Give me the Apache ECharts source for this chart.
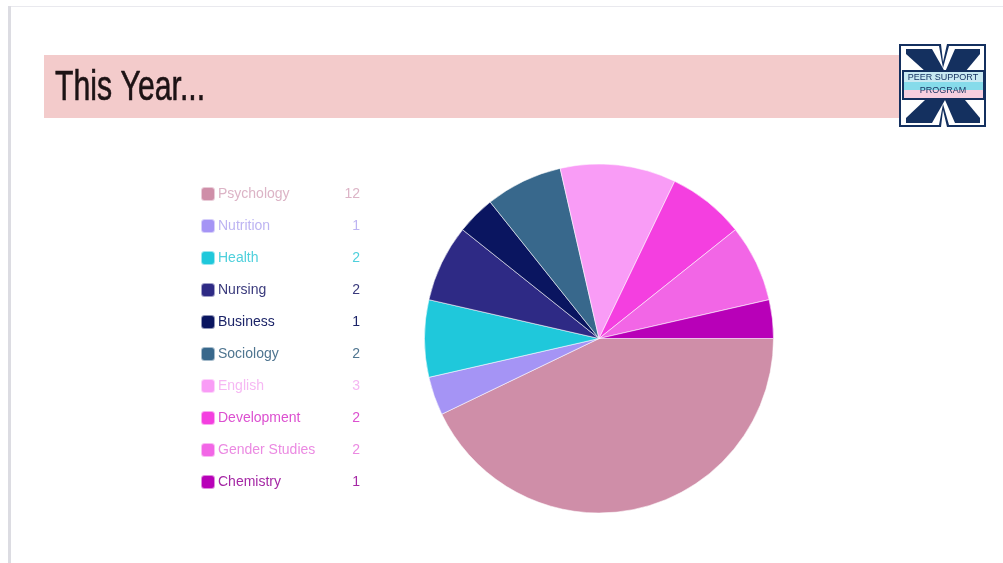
<!DOCTYPE html>
<html>
<head>
<meta charset="utf-8">
<style>
  html, body { margin: 0; padding: 0; background: #fff; }
  #chart { width: 1003px; height: 563px; }
</style>
<script src="https://cdn.jsdelivr.net/npm/echarts@6/dist/echarts.min.js"></script>
</head>
<body>
<div id="chart"></div>
<script>
// Students per major this year
const majors = ['Psychology', 'Nutrition', 'Health', 'Nursing', 'Business', 'Sociology', 'English', 'Development', 'Gender Studies', 'Chemistry'];
const counts = [12, 1, 2, 2, 1, 2, 3, 2, 2, 1];
const sliceColors = ['#cf8ea8', '#a594f5', '#1fc8db', '#2e2a85', '#0a1560', '#38688c', '#f99cf6', '#f43fe0', '#f266e6', '#b800b8'];
const labelColors = ['#dcb4c6', '#bdb4f2', '#4fd0dc', '#3a3a7c', '#1c2468', '#4f7590', '#f6b8f3', '#dc50d0', '#eb8ae2', '#a528a5'];

const NAVY = '#14305f';
const badgeFont = '9px "Liberation Sans Narrow", sans-serif';

// Slide furniture: page edges, title band and the program badge
const slideGraphics = [
  { type: 'rect', shape: { x: 8, y: 6, width: 995, height: 1 }, style: { fill: '#e9e9ee' } },
  { type: 'rect', shape: { x: 8, y: 6, width: 3, height: 557 }, style: { fill: '#dcdce2' } },
  { type: 'rect', shape: { x: 44, y: 55, width: 856, height: 63 }, style: { fill: '#f3cbcb' } },
  { type: 'text', x: 55, y: 88, scaleX: 0.72, style: { text: 'This Year...', fill: '#1c1214', stroke: '#1c1214', lineWidth: 0.6, font: '42px "Liberation Sans Narrow", "Liberation Sans", sans-serif', verticalAlign: 'middle' } },

  // Block X badge: navy outline, white inline, navy arms, striped name band
  { type: 'polygon', shape: { points: [[899,44],[941,44],[943,62],[947,44],[986,44],[986,127],[947,127],[943,110],[941,127],[899,127]] }, style: { fill: NAVY } },
  { type: 'polygon', shape: { points: [[901,46],[939,46],[943,68],[949,46],[984,46],[984,125],[949,125],[943,104],[939,125],[901,125]] }, style: { fill: '#ffffff' } },
  { type: 'polygon', shape: { points: [[906,49],[932,49],[945,72],[926,72],[906,54]] }, style: { fill: NAVY } },
  { type: 'polygon', shape: { points: [[955,49],[980,49],[980,54],[965,72],[945,72]] }, style: { fill: NAVY } },
  { type: 'polygon', shape: { points: [[906,123],[906,118],[925,100],[945,100],[932,123]] }, style: { fill: NAVY } },
  { type: 'polygon', shape: { points: [[945,100],[965,100],[980,118],[980,123],[955,123]] }, style: { fill: NAVY } },
  { type: 'rect', shape: { x: 902, y: 70, width: 83, height: 30 }, style: { fill: NAVY } },
  { type: 'rect', shape: { x: 904, y: 72, width: 79, height: 10 }, style: { fill: '#c9e9f2' } },
  { type: 'rect', shape: { x: 904, y: 82, width: 79, height: 8 }, style: { fill: '#86dbea' } },
  { type: 'rect', shape: { x: 904, y: 90, width: 79, height: 8 }, style: { fill: '#f6cfdf' } },
  { type: 'text', x: 943, y: 78, style: { text: 'PEER SUPPORT', fill: NAVY, font: badgeFont, align: 'center', verticalAlign: 'middle' } },
  { type: 'text', x: 943, y: 91, style: { text: 'PROGRAM', fill: NAVY, font: badgeFont, align: 'center', verticalAlign: 'middle' } }
];

const chart = echarts.init(document.getElementById('chart'), null, { renderer: 'canvas' });

// One rich style per row, so every name and count carries its own colour
const legendRich = {};
majors.forEach((name, i) => {
  const font = { fontFamily: 'Liberation Sans, Arial, sans-serif', fontSize: 14, lineHeight: 14, color: labelColors[i] };
  legendRich['n' + i] = { ...font, width: 123, align: 'left', padding: [0, 0, 0, -2] };
  legendRich['v' + i] = { ...font, width: 19, align: 'right' };
});

chart.setOption({
  animation: false,
  backgroundColor: '#ffffff',
  graphic: slideGraphics,
  legend: {
    orient: 'vertical',
    left: 200,
    top: 186,
    padding: 0,
    itemWidth: 14,
    itemHeight: 14,
    itemGap: 16,
    icon: 'roundRect',
    selectedMode: false,
    data: majors,
    textStyle: { rich: legendRich },
    formatter: name => {
      const i = majors.indexOf(name);
      return `{n${i}|${name}}{v${i}|${counts[i]}}`;
    }
  },
  series: [{
    type: 'pie',
    center: [599, 338.5],
    radius: [0, 174.5],
    startAngle: 0,
    clockwise: true,
    silent: true,
    label: { show: false },
    labelLine: { show: false },
    itemStyle: { borderColor: 'rgba(255,255,255,0.55)', borderWidth: 1 },
    data: majors.map((name, i) => ({
      name,
      value: counts[i],
      itemStyle: { color: sliceColors[i] }
    }))
  }]
});
</script>
</body>
</html>
